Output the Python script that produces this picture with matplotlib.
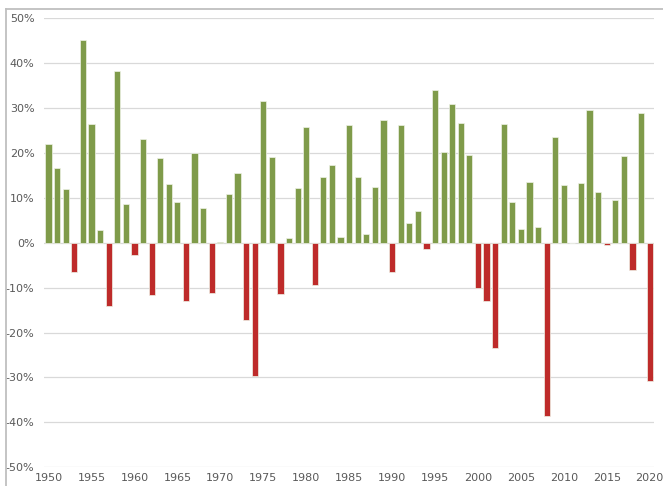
import matplotlib

matplotlib.use("Agg")
import matplotlib.pyplot as plt
from matplotlib.lines import Line2D
from matplotlib.ticker import FuncFormatter, MultipleLocator
import numpy as np

# Annual returns (%), 1950-2020
years = list(range(1950, 2021))
returns = [
    21.9, 16.6, 11.9, -6.4, 45.2, 26.5, 2.8, -14.1, 38.2, 8.6,    # 1950s
    -2.8, 23.2, -11.6, 19.0, 13.1, 9.2, -13.0, 20.1, 7.8, -11.1,  # 1960s
    0.1, 10.8, 15.6, -17.2, -29.7, 31.6, 19.1, -11.3, 1.1, 12.3,  # 1970s
    25.8, -9.5, 14.7, 17.3, 1.4, 26.3, 14.6, 2.0, 12.4, 27.3,     # 1980s
    -6.4, 26.3, 4.5, 7.1, -1.4, 34.1, 20.3, 31.0, 26.7, 19.5,     # 1990s
    -10.0, -13.0, -23.4, 26.4, 9.0, 3.0, 13.6, 3.5, -38.5, 23.5,  # 2000s
    12.8, 0.0, 13.4, 29.6, 11.4, -0.5, 9.5, 19.4, -6.1, 28.9,     # 2010s
    -30.8,                                                        # 2020
]
tick_years = list(range(1950, 2021, 5))

POS_COLOR = "#7F9B4A"
NEG_COLOR = "#BE2B2A"
GRID_COLOR = "#D9D9D9"
TEXT_COLOR = "#595959"

fig = plt.figure(figsize=(6.63, 4.86), dpi=100)
ax = fig.add_axes([0.0668, 0.0385, 0.9196, 0.9238])

colors = [POS_COLOR if r >= 0 else NEG_COLOR for r in returns]
ax.bar(years, returns, width=0.72, color=colors, edgecolor="#EEF2E6",
       linewidth=0.5, zorder=3)

ax.set_xlim(years[0] - 0.5, years[-1] + 0.5)
ax.set_ylim(-50, 50)
ax.yaxis.set_major_locator(MultipleLocator(10))
ax.yaxis.set_major_formatter(FuncFormatter(lambda v, _: f"{v:.0f}%"))
ax.set_xticks(tick_years)
ax.set_xticklabels([str(y) for y in tick_years])

ax.grid(axis="y", color=GRID_COLOR, linewidth=0.9, zorder=0)
ax.tick_params(axis="both", length=0, labelsize=8, labelcolor=TEXT_COLOR)
ax.tick_params(axis="y", pad=7)
ax.tick_params(axis="x", pad=4)
for s in ax.spines.values():
    s.set_visible(False)

# outer chart frame (left and top edges visible)
fx, fy = 5.5 / 663, 1 - 9 / 486
fig.add_artist(Line2D([fx, fx], [0, fy], color="#BFBFBF", linewidth=1.3))
fig.add_artist(Line2D([fx, 1], [fy, fy], color="#BFBFBF", linewidth=1.3))

fig.savefig("out.png", dpi=100, facecolor="white")
